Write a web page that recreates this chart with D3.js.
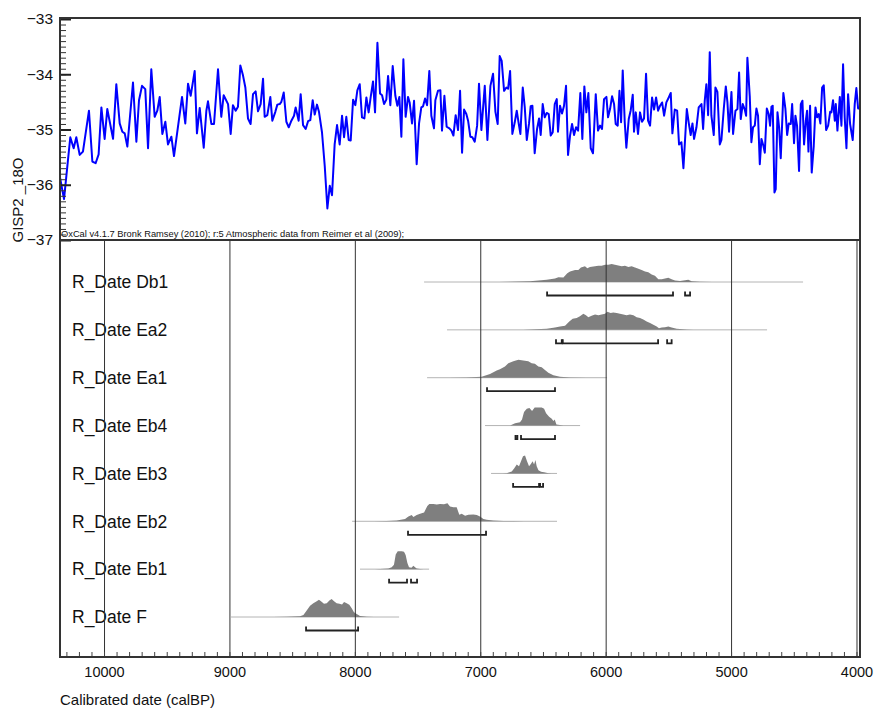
<!DOCTYPE html>
<html><head><meta charset="utf-8">
<script src="https://cdn.jsdelivr.net/npm/d3@7"></script>
<style>
body{margin:0;background:#fff}
svg{display:block}
text{font-family:"Liberation Sans",Arial,Helvetica,sans-serif;fill:#111}
</style>
</head><body>
<svg id="chart" width="875" height="708"></svg>
<script>
// ---------- DATA ----------
// GISP2 d18O record: [calBP, value]
const isoA = [[10354,-35.83],[10319,-36.26],[10269,-35.14],[10242,-35.34],[10221,-35.14],[10194,-35.46],[10168,-35.40],[10120,-34.66],[10093,-35.58],[10067,-35.61],[10043,-35.45],[10021,-34.60],[9995,-35.17],[9974,-34.63],[9928,-35.17],[9902,-34.18],[9875,-34.89],[9854,-35.04],[9835,-35.07],[9814,-35.31],[9769,-34.15],[9742,-35.22],[9721,-34.47],[9697,-34.21],[9671,-34.27],[9649,-35.34],[9623,-33.91],[9596,-34.77],[9575,-34.66],[9556,-34.41],[9535,-35.08],[9511,-34.86],[9490,-35.27],[9463,-35.13],[9442,-35.48],[9378,-34.41],[9352,-34.89],[9330,-34.17],[9309,-34.39],[9277,-33.94],[9259,-35.07],[9237,-34.61],[9205,-35.33],[9184,-34.66],[9171,-34.49],[9144,-34.90],[9123,-34.90],[9091,-33.91],[9065,-34.77],[9046,-34.38],[9011,-34.54],[8990,-35.08],[8972,-34.56],[8950,-34.66],[8932,-34.59],[8913,-33.84],[8892,-34.02],[8873,-34.24],[8852,-34.80],[8831,-34.90],[8812,-34.36],[8791,-34.31],[8772,-34.67],[8751,-34.54],[8732,-34.08]];
const isoB = [[8719,-34.77],[8698,-34.74],[8674,-34.41],[8658,-34.84],[8634,-34.68],[8618,-34.55],[8599,-34.54],[8586,-34.50],[8567,-34.33],[8546,-34.86],[8527,-34.96],[8506,-34.84],[8485,-34.75],[8472,-34.60],[8448,-34.84],[8432,-34.36],[8413,-34.92],[8392,-34.99],[8373,-34.85],[8355,-34.83],[8336,-34.47],[8320,-34.73],[8302,-34.55],[8286,-34.68],[8262,-35.05],[8240,-35.66],[8219,-36.43],[8200,-36.02],[8182,-36.19],[8161,-35.27],[8142,-34.92],[8121,-35.27],[8102,-34.75],[8086,-35.14],[8068,-34.77],[8049,-35.19],[8033,-35.20],[8014,-34.46],[7996,-34.56],[7980,-34.29],[7961,-34.18],[7943,-34.78],[7924,-34.80],[7908,-34.42],[7890,-34.69],[7874,-34.42],[7855,-34.13],[7839,-34.69],[7820,-33.43],[7799,-34.35],[7783,-34.38],[7767,-34.54],[7749,-34.46],[7735,-34.03],[7717,-34.56],[7698,-33.85],[7677,-34.39],[7661,-34.57],[7645,-34.41],[7629,-35.13],[7613,-33.73],[7595,-34.77],[7576,-34.41],[7563,-34.51],[7544,-34.89],[7528,-34.48],[7507,-35.63],[7488,-34.89],[7470,-34.60],[7456,-34.58],[7440,-34.44],[7424,-34.56],[7406,-33.94],[7390,-34.75],[7369,-34.98],[7358,-34.47],[7337,-34.30],[7318,-34.29],[7305,-35.02],[7286,-34.39],[7268,-34.95],[7246,-34.98],[7230,-35.02],[7214,-35.11],[7196,-34.74],[7177,-35.01],[7161,-34.30],[7145,-35.42]];
const isoC = [[7129,-34.64],[7111,-34.72],[7097,-34.84],[7079,-35.13],[7063,-35.14],[7044,-35.22],[7025,-34.93],[7010,-34.17],[6991,-35.01],[6964,-34.21],[6943,-35.19],[6919,-34.21],[6898,-33.99],[6879,-34.68],[6861,-34.90],[6845,-33.67],[6829,-33.76],[6810,-34.30],[6792,-34.24],[6778,-34.26],[6762,-33.94],[6744,-35.08],[6725,-34.87],[6709,-34.66],[6693,-34.90],[6680,-35.08],[6661,-34.24],[6645,-34.60],[6629,-35.19],[6611,-34.89],[6598,-34.58],[6584,-34.57],[6566,-35.43],[6547,-34.99],[6531,-34.80],[6518,-35.10],[6502,-34.54],[6486,-34.78],[6470,-34.70],[6454,-34.72],[6438,-35.11],[6422,-35.05],[6406,-34.54],[6390,-34.45],[6380,-35.04],[6364,-34.57],[6348,-34.71],[6332,-34.57],[6316,-34.21],[6300,-35.46],[6284,-35.11],[6268,-34.90],[6252,-35.10],[6236,-34.96],[6220,-35.02],[6202,-34.34],[6186,-35.17],[6170,-34.22],[6154,-34.69],[6138,-34.34],[6119,-35.34],[6101,-35.43],[6079,-34.36],[6061,-35.02],[6045,-34.93],[6029,-34.99],[6013,-34.45],[5994,-34.41],[5981,-34.78],[5965,-34.63],[5949,-34.40],[5933,-34.54],[5920,-34.90],[5904,-34.93],[5890,-34.30],[5877,-34.87],[5864,-33.93],[5848,-34.86],[5835,-35.33],[5816,-34.81],[5800,-34.65],[5784,-34.37],[5774,-35.04],[5760,-34.69],[5742,-35.08],[5726,-34.69],[5710,-34.86],[5694,-34.80],[5678,-33.99],[5662,-34.84],[5646,-34.93],[5630,-34.42],[5614,-34.64],[5598,-34.42],[5582,-34.66],[5566,-34.57],[5550,-34.51]];
const isoD = [[5534,-34.75],[5516,-34.51],[5497,-34.42],[5481,-34.34],[5468,-35.07],[5449,-34.64],[5430,-34.66],[5415,-35.27],[5396,-35.23],[5380,-35.70],[5353,-34.63],[5337,-34.89],[5322,-35.10],[5308,-34.89],[5295,-35.17],[5276,-34.96],[5258,-34.60],[5236,-34.54],[5223,-34.99],[5210,-34.48],[5197,-34.18],[5183,-34.74],[5170,-33.60],[5157,-34.75],[5138,-35.10],[5125,-34.24],[5109,-34.32],[5090,-35.27],[5077,-35.19],[5058,-34.62],[5042,-34.22],[5029,-34.51],[5016,-35.04],[4997,-34.32],[4984,-35.08],[4965,-34.66],[4949,-34.63],[4936,-33.97],[4923,-34.81],[4907,-34.54],[4891,-34.64],[4880,-34.75],[4870,-33.70],[4851,-34.40],[4838,-35.23],[4825,-34.96],[4811,-34.93],[4798,-34.62],[4785,-34.75],[4771,-35.63],[4758,-35.17],[4742,-35.30],[4731,-35.42],[4715,-34.62],[4700,-34.72],[4689,-34.93],[4678,-34.59],[4668,-34.57],[4654,-36.14],[4644,-36.08],[4630,-34.69],[4617,-34.96],[4604,-35.52],[4583,-34.34],[4567,-34.62],[4553,-35.10],[4540,-34.89],[4524,-34.90],[4513,-34.54],[4498,-35.25],[4487,-34.75],[4474,-34.93],[4458,-35.75],[4444,-34.54],[4431,-34.48],[4418,-35.27],[4404,-34.84],[4394,-34.66],[4383,-35.40],[4370,-34.57],[4357,-35.78],[4341,-35.30],[4327,-34.60],[4314,-34.78],[4301,-34.72],[4288,-34.89],[4274,-34.24],[4261,-34.20],[4242,-35.01],[4226,-34.93],[4210,-34.68],[4200,-34.69],[4187,-34.47],[4173,-34.84],[4165,-34.54],[4152,-35.02],[4133,-34.41],[4120,-34.93],[4107,-33.82],[4094,-34.78],[4080,-35.34],[4067,-34.36],[4051,-34.90],[4030,-35.19],[4014,-34.54],[4001,-34.25],[3987,-34.62],[3966,-34.62]];

const yTicks = [-37,-36,-35,-34,-33];
const xTicks = [10000,9000,8000,7000,6000,5000,4000];

const sampleNames = ["R_Date Db1","R_Date Ea2","R_Date Ea1","R_Date Eb4","R_Date Eb3","R_Date Eb2","R_Date Eb1","R_Date F"];
// thin line extent of each distribution
const priorRanges = [[7448,4426],[7265,4713],[7424,5989],[6962,6204],[6914,6388],[8022,6388],[7959,7408],[8987,7647]];
// 95.4% ranges (brackets)
const hpdRanges = [
  [[6467,5463],[5367,5327]],
  [[6396,6350],[6342,5582],[5510,5474]],
  [[6946,6404]],
  [[6719,6704],[6675,6404]],
  [[6738,6531],[6523,6499]],
  [[7576,6954]],
  [[7727,7584],[7552,7504]],
  [[8389,7974]]
];
// posterior probability (relative) [calBP, density]
const densDb1 = [[6850,0],[6763,0.01],[6603,0.04],[6470,0.12],[6404,0.19],[6377,0.27],[6337,0.25],[6306,0.48],[6284,0.58],[6244,0.67],[6218,0.67],[6197,0.81],[6165,0.87],[6146,0.77],[6125,0.83],[6085,0.87],[6058,0.90],[6032,0.90],[6005,0.96],[5979,0.96],[5952,1.0],[5926,0.96],[5899,0.92],[5872,0.87],[5846,0.90],[5819,0.83],[5793,0.87],[5766,0.81],[5739,0.73],[5713,0.67],[5686,0.58],[5660,0.54],[5633,0.42],[5607,0.35],[5580,0.15],[5553,0.15],[5527,0.19],[5500,0.23],[5474,0.15],[5447,0.08],[5407,0.06],[5367,0.10],[5341,0.13],[5314,0.04],[5248,0.01],[5150,0]];
const densEa2 = [[6750,0],[6656,0.01],[6470,0.06],[6404,0.13],[6364,0.19],[6324,0.23],[6290,0.47],[6263,0.62],[6231,0.66],[6205,0.75],[6178,0.89],[6157,0.81],[6138,0.70],[6112,0.79],[6085,0.85],[6058,0.81],[6032,0.85],[6005,0.89],[5987,1.0],[5960,0.94],[5939,0.96],[5912,0.94],[5886,0.89],[5859,0.85],[5833,0.81],[5806,0.85],[5779,0.81],[5753,0.70],[5726,0.66],[5700,0.57],[5673,0.47],[5646,0.38],[5620,0.28],[5593,0.19],[5575,0.09],[5553,0.13],[5527,0.15],[5500,0.19],[5474,0.13],[5434,0.06],[5354,0.02],[5301,0]];
const densEa1 = [[7250,0],[7108,0.01],[6989,0.06],[6922,0.21],[6869,0.40],[6843,0.47],[6803,0.62],[6776,0.81],[6736,0.91],[6696,1.0],[6657,0.96],[6617,0.91],[6590,0.81],[6564,0.77],[6537,0.62],[6510,0.58],[6484,0.43],[6457,0.28],[6417,0.13],[6364,0.06],[6284,0.01],[6150,0]];
const densEb4 = [[6800,0],[6762,0.01],[6722,0.13],[6683,0.19],[6667,0.34],[6651,0.75],[6629,0.94],[6608,0.98],[6587,0.81],[6566,1.0],[6536,1.0],[6510,1.0],[6491,0.94],[6475,0.68],[6451,0.49],[6430,0.38],[6417,0.25],[6406,0.34],[6393,0.06],[6337,0.01],[6280,0]];
const densEb3 = [[6820,0],[6789,0.01],[6749,0.11],[6730,0.28],[6709,0.49],[6691,0.40],[6675,0.68],[6659,0.96],[6643,1.0],[6627,0.68],[6611,0.40],[6598,0.51],[6582,0.68],[6571,0.49],[6560,0.74],[6550,0.40],[6536,0.17],[6515,0.09],[6491,0.06],[6457,0.01],[6430,0]];
const densEb2 = [[7850,0],[7746,0.01],[7666,0.04],[7600,0.13],[7573,0.27],[7547,0.35],[7533,0.24],[7507,0.35],[7480,0.42],[7448,0.49],[7422,0.85],[7406,0.96],[7374,0.96],[7347,0.93],[7321,0.96],[7289,0.95],[7262,1.0],[7241,0.82],[7214,0.78],[7188,0.78],[7167,0.36],[7148,0.42],[7121,0.31],[7095,0.36],[7055,0.38],[7028,0.35],[7002,0.27],[6975,0.13],[6949,0.09],[6896,0.05],[6816,0.02],[6736,0.01],[6650,0]];
const densEb1 = [[7840,0],[7799,0.01],[7733,0.04],[7706,0.11],[7688,0.25],[7674,0.81],[7658,1.0],[7626,1.0],[7608,0.96],[7595,0.79],[7581,0.34],[7568,0.11],[7549,0.08],[7533,0.19],[7520,0.11],[7507,0.04],[7480,0.01],[7450,0]];
const densF = [[8650,0],[8543,0.01],[8437,0.04],[8410,0.11],[8384,0.36],[8357,0.62],[8331,0.77],[8304,0.87],[8286,0.96],[8270,0.87],[8246,0.74],[8224,0.77],[8203,0.91],[8185,1.0],[8166,0.87],[8145,0.77],[8123,0.74],[8102,0.70],[8086,0.83],[8065,0.77],[8044,0.68],[8025,0.49],[8007,0.26],[7985,0.17],[7959,0.06],[7905,0.01],[7850,0]];
const densities = [densDb1,densEa2,densEa1,densEb4,densEb3,densEb2,densEb1,densF];

// ---------- LAYOUT ----------
const L = 60, R = 860, T = 18, MID = 240, B = 657;
const svg = d3.select("#chart");
const x = d3.scaleLinear().domain([10351, 3972]).range([L, R]);
const y = d3.scaleLinear().domain([-37, -33]).range([MID, 19]);
const rowY = d3.scalePoint().domain(sampleNames).range([282, 617]);
const densH = 18;

svg.append("defs").append("clipPath").attr("id","clipTop")
  .append("rect").attr("x",L).attr("y",T).attr("width",R-L).attr("height",MID-T);

// ---------- TOP PANEL ----------
const iso = isoA.concat(isoB, isoC, isoD);
svg.append("path")
  .datum(iso)
  .attr("clip-path","url(#clipTop)")
  .attr("fill","none")
  .attr("stroke","#0000ff")
  .attr("stroke-width",2)
  .attr("stroke-linejoin","round")
  .attr("d", d3.line().x(d=>x(d[0])).y(d=>y(d[1])));

// y axis ticks (inside)
const minorY = d3.range(-37, -32.95, 0.1).map(v=>+v.toFixed(1));
svg.append("g").attr("transform",`translate(${L},0)`)
  .call(d3.axisRight(y).tickValues(minorY).tickSize(6).tickFormat(""))
  .call(g=>{g.select(".domain").remove(); g.selectAll("line").attr("stroke","#333").attr("stroke-width",1);});
svg.append("g").attr("transform",`translate(${L},0)`)
  .call(d3.axisRight(y).tickValues(yTicks).tickSize(11).tickFormat(""))
  .call(g=>{g.select(".domain").remove(); g.selectAll("line").attr("stroke","#222").attr("stroke-width",2);});
svg.append("g").attr("transform",`translate(${L},0)`)
  .call(d3.axisLeft(y).tickValues(yTicks).tickSize(0).tickPadding(7).tickFormat(d3.format("d")))
  .call(g=>{g.select(".domain").remove(); g.selectAll("text").attr("font-size",15.5).attr("font-family","Liberation Sans, Arial, sans-serif").attr("fill","#111");});

svg.append("text")
  .attr("transform",`translate(23,200) rotate(-90)`)
  .attr("text-anchor","middle")
  .attr("font-size",15)
  .text("GISP2 _18O");

svg.append("text")
  .attr("x",L+1).attr("y",MID-3)
  .attr("font-size",9.3)
  .attr("fill","#222")
  .text("OxCal v4.1.7 Bronk Ramsey (2010); r:5 Atmospheric data from Reimer et al (2009);");

// ---------- BOTTOM PANEL ----------
const rows = svg.append("g");
sampleNames.forEach((name, i) => {
  const cy = rowY(name);
  const g = rows.append("g");
  g.append("line")
    .attr("x1", x(priorRanges[i][0])).attr("x2", x(priorRanges[i][1]))
    .attr("y1", cy).attr("y2", cy)
    .attr("stroke","#b4b4b4").attr("stroke-width",1);
  g.append("path")
    .datum(densities[i])
    .attr("fill","#7f7f7f")
    .attr("d", d3.area().x(d=>x(d[0])).y0(cy).y1(d=>cy - d[1]*densH));
  g.selectAll("path.br").data(hpdRanges[i]).join("path")
    .attr("class","br")
    .attr("fill","none").attr("stroke","#222").attr("stroke-width",1.8)
    .attr("d", d => {
      const by = cy + 13.5;
      return `M${x(d[0])},${by-4}V${by}H${x(d[1])}V${by-4}`;
    });
  g.append("text")
    .attr("x", 72).attr("y", cy)
    .attr("dy","0.36em")
    .attr("font-size",17.5)
    .text(name);
});

// grid lines
svg.append("g").attr("transform",`translate(0,${B})`)
  .call(d3.axisTop(x).tickValues(xTicks).tickSize(B-MID).tickFormat(""))
  .call(g=>{g.select(".domain").remove(); g.selectAll("line").attr("stroke","#333").attr("stroke-width",1);});
// minor ticks
svg.append("g").attr("transform",`translate(0,${B})`)
  .call(d3.axisTop(x).tickValues(d3.range(4000,10301,100)).tickSize(5).tickFormat(""))
  .call(g=>{g.select(".domain").remove(); g.selectAll("line").attr("stroke","#444").attr("stroke-width",1);});
// tick labels
svg.append("g").attr("transform",`translate(0,${B})`)
  .call(d3.axisBottom(x).tickValues(xTicks).tickSize(0).tickPadding(10).tickFormat(d3.format("d")))
  .call(g=>{g.select(".domain").remove(); g.selectAll("text").attr("font-size",14.5).attr("font-family","Liberation Sans, Arial, sans-serif").attr("fill","#111");});

svg.append("text")
  .attr("x", L).attr("y", 705)
  .attr("font-size",15)
  .text("Calibrated date (calBP)");

// frames
svg.append("rect").attr("x",L).attr("y",T).attr("width",R-L).attr("height",MID-T)
  .attr("fill","none").attr("stroke","#333").attr("stroke-width",2);
svg.append("path").attr("d",`M${L},${MID}V${B}H${R}V${MID}`)
  .attr("fill","none").attr("stroke","#333").attr("stroke-width",2);
</script>
</body></html>
